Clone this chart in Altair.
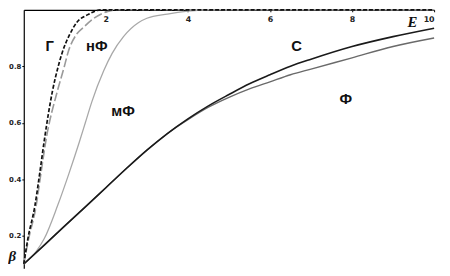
import altair as alt
import pandas as pd

# Series
g_x = [0, 0.1, 0.27, 0.39, 0.5, 0.7, 0.84, 0.94, 1.11, 1.3, 1.55, 1.9, 10]
g_y = [0.10, 0.19, 0.305, 0.423, 0.538, 0.713, 0.80, 0.85, 0.91, 0.957, 0.982, 1.0, 1.0]

nf_x = [0, 0.12, 0.3, 0.42, 0.54, 0.82, 0.99, 1.08, 1.27, 1.47, 1.71, 2.3, 10]
nf_y = [0.10, 0.19, 0.305, 0.423, 0.538, 0.713, 0.80, 0.85, 0.91, 0.94, 0.97, 1.0, 1.0]

mf_x = [0, 0.3, 0.5, 0.82, 1.1, 1.35, 1.5, 1.66, 1.95, 2.15, 2.43, 2.8, 3.0, 3.5, 4.0, 4.6, 10]
mf_y = [0.10, 0.144, 0.19, 0.305, 0.42, 0.53, 0.60, 0.675, 0.785, 0.845, 0.905, 0.955, 0.97,
        0.985, 0.995, 1.0, 1.0]

c_x = [0, 0.5, 1, 1.5, 2, 2.5, 3, 3.5, 4, 4.5, 5, 5.5, 6, 6.5, 7, 8, 9, 10]
c_y = [0.10, 0.167, 0.235, 0.302, 0.37, 0.438, 0.503, 0.562, 0.614, 0.66, 0.70, 0.738,
       0.77, 0.80, 0.825, 0.87, 0.905, 0.935]

f_x = [0, 0.5, 1, 1.5, 2, 2.5, 3, 3.5, 4, 4.5, 5, 5.5, 6, 6.5, 7, 8, 9, 10]
f_y = [0.10, 0.167, 0.235, 0.302, 0.37, 0.438, 0.503, 0.562, 0.611, 0.655, 0.69, 0.72,
       0.745, 0.77, 0.79, 0.83, 0.87, 0.90]

labels_text = ["Г", "нФ", "мФ", "С", "Ф"]
labels_x = [0.63, 1.78, 2.42, 6.65, 7.85]
labels_y = [0.87, 0.87, 0.643, 0.87, 0.685]

x_ticks = [2, 4, 6, 8, 10]
y_ticks = [0.2, 0.4, 0.6, 0.8]

W, H = 416, 262
xs = alt.Scale(domain=[0, 10], nice=False)
ys = alt.Scale(domain=[0.085, 1.0], nice=False)

xaxis = alt.Axis(values=x_ticks, orient="bottom", offset=-H, grid=False,
                 domainColor="#000", domainWidth=1.2, tickColor="#000",
                 tickSize=2, labelFontSize=8, labelFont="DejaVu Sans",
                 labelColor="#222", labelPadding=4, labelFontWeight="bold", title=None)
yaxis = alt.Axis(values=y_ticks, format=".1f", grid=False, domainColor="#000",
                 domainWidth=1.2, tickColor="#000", tickSize=2,
                 labelFontSize=7, labelFont="DejaVu Sans", labelColor="#222",
                 labelPadding=1, labelFontWeight="bold", title=None)

X = alt.X("x:Q", scale=xs, axis=xaxis)
Y = alt.Y("y:Q", scale=ys, axis=yaxis)


def line_layer(xv, yv, color, width, dash=None):
    df = pd.DataFrame({"x": xv, "y": yv})
    kw = dict(color=color, strokeWidth=width, interpolate="monotone")
    if dash:
        kw["strokeDash"] = dash
    return alt.Chart(df).mark_line(**kw).encode(x=X, y=Y)


mf = line_layer(mf_x, mf_y, "#a8a8a8", 1.3)
f = line_layer(f_x, f_y, "#6a6a6a", 1.4)
c = line_layer(c_x, c_y, "#1a1a1a", 1.6)
nf = line_layer(nf_x, nf_y, "#9a9a9a", 1.6, [9, 3])
g = line_layer(g_x, g_y, "#111111", 1.7, [4, 2])

lab = alt.Chart(pd.DataFrame({"t": labels_text, "x": labels_x, "y": labels_y})).mark_text(
    font="Liberation Sans", fontSize=15, fontWeight="bold", color="#111"
).encode(x=X, y=Y, text="t:N")

axlab_e = alt.Chart(pd.DataFrame({"t": ["E"], "x": [9.47], "y": [0.957]})).mark_text(
    font="Liberation Serif", fontSize=15, fontWeight="bold", fontStyle="italic", color="#111"
).encode(x=X, y=Y, text="t:N")

axlab_b = alt.Chart(pd.DataFrame({"t": ["β"], "x": [-0.37], "y": [0.127]})).mark_text(
    font="Liberation Serif", fontSize=15, fontWeight="bold", fontStyle="italic", color="#111",
    align="left"
).encode(x=X, y=Y, text="t:N")

chart = alt.layer(mf, f, c, nf, g, lab, axlab_e, axlab_b).properties(
    width=W, height=H,
    autosize=alt.AutoSizeParams(type="none"),
    padding={"left": 16, "top": 0, "right": 8, "bottom": 2},
).configure_view(stroke=None)

chart.save("out.html", embed_options={"renderer": "svg", "actions": False})
